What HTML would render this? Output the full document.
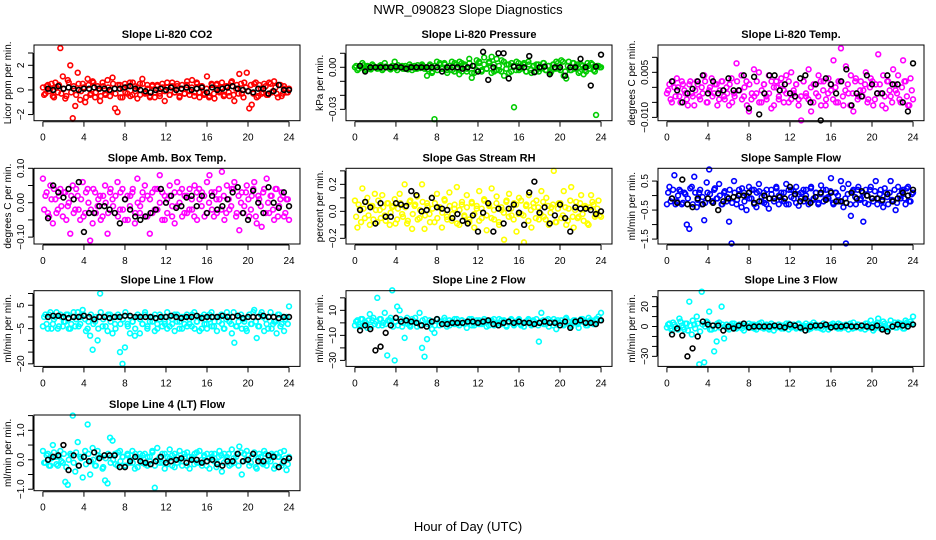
<!DOCTYPE html>
<html><head><meta charset="utf-8"><style>
html,body{margin:0;padding:0;background:#fff;}
svg{display:block;font-family:"Liberation Sans",sans-serif;}
</style></head><body>
<svg id="chart" width="936" height="540" viewBox="0 0 936 540" xmlns="http://www.w3.org/2000/svg">
<rect width="936" height="540" fill="#fff"/>
<text x="468" y="14" text-anchor="middle" font-size="13">NWR_090823  Slope Diagnostics</text>
<text x="468" y="531" text-anchor="middle" font-size="13">Hour of Day (UTC)</text>
</svg>
<script>
const xTicks = [0,4,8,12,16,20,24];
const co2 = [0.2,-0.3,0.4,0.1,-0.5,0.6,-0.2,3.4,1.1,-0.7,0.8,2.0,-2.3,-1.3,1.4,-0.8,0.5,-1.0,0.9,-0.4,0.7,-0.6,0.3,-0.9,0.6,-0.3,0.8,-0.5,1.0,-1.5,-1.8,0.4,-0.6,0.5,-0.3,0.6,-0.4,0.3,-0.7,0.5,0.9,-0.2,0.4,-0.5,0.3,-0.6,0.4,-0.3,0.5,-0.9,0.2,-0.4,0.6,-0.2,0.3,-0.5,0.4,-0.3,0.7,-0.4,0.8,-0.2,0.5,-0.6,0.3,-0.3,1.1,-0.5,0.4,-0.7,0.5,-0.2,0.6,-0.4,0.3,-0.5,0.7,-0.9,0.4,1.3,-0.3,0.6,1.4,-1.5,-1.2,0.5,-0.6,0.4,-0.3,0.5,-0.4,0.6,-0.2,0.7,-0.3,0.4,-0.5,0.3,-0.2,0.1];
const co2B = [-0.4,0.3,-0.1,0.5,-0.6,0.2,0.4,-0.3,0.1,-0.5,0.6,-0.2,0.3,-0.4,0.5,-0.1,0.2,-0.6,0.4,-0.3,0.6,-0.2,0.1,-0.5,0.3,-0.4,0.2,-0.1,0.5,-0.3,0.4,-0.6,0.1,-0.2,0.3,-0.5,0.6,-0.1,0.2,-0.4,0.5,-0.3,0.1,-0.6,0.4,-0.2,0.3,-0.5,0.2,-0.1,0.6,-0.4,0.3,-0.2,0.5,-0.6,0.1,-0.3,0.4,-0.1,0.2,-0.5,0.6,-0.2,0.3,-0.4,0.1,-0.6,0.5,-0.3,0.4,-0.1,0.2,-0.5,0.3,-0.2,0.6,-0.4,0.1,-0.3,0.5,-0.6,0.2,-0.1,0.4,-0.3,0.6,-0.5,0.1,-0.2,0.3,-0.4,0.5,-0.1,0.2,-0.6,0.4,-0.3,0.1,-0.2];
const co2Ref = [0.1,0,0.3,0.1,0.2,0.1,0,0.1,0.1,0.2,0.1,0.1,0,0.1,0.1,0.2,0.3,0.1,0,-0.1,-0.2,0,0.1,0,0.2,0,0.1,0.2,0,0.1,0.2,-0.2,0.2,0,0.1,0.2,0.3,0.1,0,-0.1,-0.2,0.1,0.1,-0.3,-0.1,0.4,0,0];
const press = [0,-.002,.001,.003,-.002,.001,-.001,.002,0,-.001,.001,-.002,.003,0,-.001,.001,.004,-.002,0,.001,-.001,0,.002,-.002,.001,-.001,0,.002,-.001,-.006,.001,-.004,-.037,.004,.002,-.001,.003,-.002,.001,.004,-.003,.002,-.005,.003,.001,-.003,.006,-.0075,-.004,.005,.003,-.002,.007,-.001,.004,.0075,-.003,.006,-.002,.005,-.006,.002,-.004,.003,-.0285,.004,-.002,.001,.003,-.003,.002,-.004,.001,.002,-.003,0,.003,-.002,.001,-.003,.002,.004,-.001,.005,-.006,-.008,.004,-.002,.003,.001,-.004,.002,-.005,-.003,.001,.003,-.002,-.034,.001,0];
const pressB = [.001,-.001,0,.0015,-.001,.0005,-.0015,.001,0,-.0005,.0015,-.001,.0005,0,-.0015,.001,-.0005,.0015,0,-.001,.001,-.0015,.0005,0,-.001,.0015,-.0005,.001,0,-.0015,.002,-.003,.001,-.002,.003,-.001,.002,-.004,.001,-.002,.003,-.001,.004,-.003,.002,-.001,.003,-.004,.001,-.002,.004,-.003,.002,-.001,.003,-.004,.002,-.002,.001,-.003,.004,-.001,.002,-.003,.001,-.002,.003,-.001,.002,-.003,.004,-.002,.001,-.003,.002,-.001,.003,-.002,.001,-.004,.002,-.001,.003,-.002,.004,-.003,.001,-.002,.003,-.001,.002,-.003,.001,-.002,.003,-.001,.002,-.003,.001,0];
const pressRef = [.001,-.003,0,0,0,0,0,.0005,0,-.001,0,0,0,0,0,0,-.003,0,0,0,-.001,0,.001,-.003,.011,-.009,0,.01,.01,-.008,.0005,0,0,.008,-.0035,0,.0005,-.005,0,0,-.006,0,0,.006,0,-.013,.0005,.009];
const temp = [-.002,.001,-.005,0,.003,-.003,.002,-.001,-.004,.001,-.002,-.006,.002,-.003,0,.004,-.005,-.001,.003,-.002,.001,-.004,.002,-.003,0,-.006,.003,-.002,.008,-.001,.004,-.003,.002,-.008,-.004,.006,-.002,.005,-.005,.001,-.003,.004,-.007,0,.002,-.004,.003,-.001,.004,-.005,.005,-.002,.001,-.004,-.011,.002,-.003,.006,-.008,.001,-.002,.004,-.006,.002,-.004,.003,-.001,.009,-.005,.002,.013,-.006,.007,-.002,.004,-.008,.003,-.003,.002,-.001,.005,-.004,.003,-.006,.001,.011,-.002,.004,-.007,.002,-.003,.006,-.001,.004,-.005,.009,.002,-.006,.003,-.004];
const tempB = [-.001,-.004,.002,-.003,0,-.005,.001,-.002,-.006,.002,-.003,-.001,.001,-.004,-.002,.002,-.005,0,-.003,.001,-.006,-.001,.002,-.004,-.002,.001,-.005,-.003,.002,-.001,-.004,0,-.006,.001,-.002,-.003,.002,-.005,-.001,.001,-.004,-.002,.002,-.006,0,-.003,.001,-.005,-.002,.002,-.004,-.001,.001,-.006,-.003,.002,-.002,-.004,0,-.005,.001,-.003,.002,-.001,-.006,-.002,.001,-.004,0,-.005,.002,-.003,-.001,.001,-.006,-.002,.002,-.004,-.001,-.003,.001,-.005,0,.002,-.004,-.002,.001,-.006,-.003,.002,-.001,-.005,.001,-.002,-.004,0,.002,-.003,-.006,-.001];
const tempRef = [.002,-.001,-.005,-.002,-.0005,.002,.004,-.002,.002,-.002,-.001,.003,-.001,-.001,.004,-.007,.0035,-.009,-.002,.004,.004,-.001,.001,-.002,-.003,.003,.004,-.005,.001,-.011,.003,.001,-.002,.002,.006,-.006,-.002,-.003,.004,.001,-.002,-.002,.004,.001,.001,-.005,-.008,.008];
const amb = [.07,.02,-.03,.05,-.06,.01,-.02,.04,-.04,.03,-.01,-.09,.05,-.02,.02,-.05,.06,-.03,.04,-.11,-.06,.03,-.01,.02,-.04,.05,-.09,.03,.01,-.03,.06,-.02,.04,-.05,.02,-.01,.03,-.06,.07,-.03,.01,.05,-.04,-.09,.03,-.02,.04,.08,-.05,.02,-.03,.05,-.01,-.06,.06,.03,-.04,.02,-.03,.04,-.02,.05,-.05,.01,.03,-.04,.06,.08,-.02,.03,-.03,.01,.09,-.05,.05,-.02,.04,.06,-.03,-.08,.03,-.01,.05,-.04,.02,.06,-.06,.01,-.07,.04,.07,-.03,.02,-.05,.04,-.01,.03,-.04,.01,-.05];
const ambB = [-.02,.03,-.04,.01,.04,-.03,.02,-.01,.03,-.05,0,.02,-.03,.04,-.02,.01,-.04,.03,0,-.02,.04,-.03,.01,-.05,.02,0,-.03,.04,-.01,.02,-.04,.03,-.02,.01,-.05,.02,.04,-.03,0,-.01,.03,-.04,.02,.01,-.03,.04,-.02,0,.03,-.05,.01,.02,-.04,.03,-.01,0,.04,-.03,.02,-.02,.01,-.04,.03,.04,-.01,.02,-.03,0,.03,-.04,.01,.04,-.02,.02,-.03,.01,-.01,.04,-.04,.02,0,-.03,.03,.01,-.02,.04,-.04,.02,-.01,.03,-.03,0,.02,-.02,.04,-.04,.01,.02,-.03,.01];
const ambRef = [-.045,.05,.03,.015,.04,.01,.06,-.085,-.03,-.03,-.01,-.01,-.02,-.03,-.06,.01,-.02,-.04,-.05,-.04,-.03,-.02,.04,0,.02,-.015,-.01,.015,.02,-.01,.02,-.03,.02,-.02,-.01,.01,.03,.045,-.03,-.05,.035,0,-.03,.045,0,-.015,.03,-.01];
const rh = [.08,-.12,.02,.17,-.05,.1,-.1,.04,.13,-.08,.01,.12,-.03,.06,-.1,.03,.09,-.06,.13,-.02,.2,-.09,.07,-.13,.04,.11,-.05,.2,-.13,.06,-.02,.1,-.08,.13,.03,-.12,.09,-.04,.14,-.07,.02,.18,-.1,.05,-.03,.12,-.08,.07,-.12,.02,.15,-.05,.09,-.14,.04,.17,-.06,.11,-.1,.01,-.21,.08,.13,-.03,.06,-.15,.1,-.02,-.23,.05,.12,-.12,.03,.08,-.06,.15,-.04,.1,-.1,.03,.3,-.08,.06,-.05,.15,-.1,.02,.18,-.12,.07,-.04,.12,-.07,.03,-.1,.12,.05,-.03,.08,-.04];
const rhB = [-.04,.05,-.08,.02,.07,-.03,.04,-.06,.01,.08,-.05,.03,-.07,.06,-.01,.04,-.09,.02,.06,-.04,.03,-.07,.08,-.02,.05,-.06,.01,.07,-.03,.04,-.08,.02,.06,-.05,.03,-.01,.08,-.06,.04,-.02,.05,-.09,.01,.07,-.04,.03,-.06,.06,-.02,.04,-.07,.02,.08,-.03,.05,-.05,.01,.06,-.08,.03,-.01,.07,-.04,.02,-.06,.05,-.02,.08,-.03,.04,-.07,.01,.06,-.05,.03,-.02,.07,-.06,.04,-.01,.05,-.08,.02,.06,-.03,.03,-.07,.08,-.04,.01,-.05,.06,-.02,.04,-.09,.03,.07,-.04,.02,-.03];
const rhRef = [.01,.07,.03,-.09,.06,-.04,-.04,.06,.05,.04,.15,.12,0,.01,.1,.03,.02,.01,-.05,-.02,-.07,-.09,-.03,-.15,-.01,.06,-.15,.02,-.09,.02,.05,-.01,-.1,.14,.22,-.01,.03,-.09,-.03,.05,-.05,-.15,.03,.02,.02,.01,-.02,0];
const sflow = [-.3,.3,-.1,.7,-.2,.2,-.3,.1,-1.0,-1.15,.3,.65,-.4,.1,-.3,-.85,.45,.9,-.2,.2,-.1,.4,-.3,.1,-.2,-.9,-1.65,.5,-.3,.2,-.4,.1,-.5,.3,-.1,.2,-.4,.4,-.2,.1,-.3,-.45,.2,-.1,.3,-.3,.1,-.2,.4,-.3,.2,-.1,.3,-.35,.1,-.2,.2,-.3,.3,-.1,.1,-.25,.35,-.2,.2,-.1,.6,-.3,.1,-.2,.5,-.4,-1.65,.4,-.7,.2,-.3,.3,-.1,-.9,.2,-.3,.3,-.2,.5,-.1,.2,-.4,.1,-.3,.5,-.2,-.5,.3,-.1,.2,-.3,.3,-.2,.1];
const sflowB = [.1,-.2,.2,-.3,0,.15,-.25,.05,-.1,.25,-.3,.1,-.15,.2,-.05,-.25,.1,.05,-.2,.25,-.1,0,-.3,.15,-.05,.2,-.25,.1,-.15,.05,.25,-.2,0,-.1,.2,-.3,.1,.15,-.05,-.25,.2,-.1,.05,-.2,.25,0,-.15,.1,-.3,.2,-.05,.15,-.25,.05,-.1,.2,0,-.2,.25,-.15,.1,-.3,.05,.2,-.1,-.05,.15,-.25,.1,0,-.2,.25,-.1,.05,-.3,.15,-.05,.2,-.15,.1,-.25,0,.2,-.1,.15,-.3,.05,-.2,.25,-.05,.1,-.15,.2,-.25,0,.15,-.1,.25,-.2,.05];
const sflowRef = [-.1,-.25,.55,-.3,-.4,-.1,-.3,-.1,-.25,-.5,-.2,-.1,-.05,0,0,.1,-.25,-.2,0,-.1,-.1,-.05,-.1,.3,.05,-.2,-.1,-.25,-.05,.1,-.15,.1,-.2,-.2,-.25,.1,-.1,.15,0,-.1,-.1,-.15,.05,-.2,-.1,.1,0,.2];
const line1 = [-4,1,-5,2,-3,0,-5,1,-4,-2,1,-5,0,-4,2,-3,3,-1,-5,-8,-14,-2,-10,10,-4,0,-6,1,-7,-3,0,-15,-20,-13,-3,-7,-2,-8,0,-7,-3,1,-5,-2,0,-6,-3,1,-4,-2,-5,0,-3,-6,1,-2,-5,0,-4,-3,1,-5,-2,-6,0,-3,-5,1,-4,-2,-6,0,-3,-5,2,-2,-7,-11,-4,0,-5,-2,-6,1,-3,3,-9,-4,2,-6,-3,0,-5,-2,-7,1,-3,-6,0,4.5];
const line1B = [0,-3,1,-5,-1,2,-4,0,-2,1,-5,-3,2,-1,-4,0,1,-6,-2,1,-3,0,-5,2,-1,-4,1,-2,0,-5,1,-3,-1,2,-4,0,-2,-5,1,-1,-3,2,-4,0,-2,1,-5,-1,0,-3,2,-4,-1,1,-2,-5,0,-3,1,-1,-4,2,-2,0,-5,1,-3,-1,2,-4,0,-2,1,-5,-1,0,-3,2,-4,-2,1,-1,-5,0,-3,2,-2,-4,1,0,-1,-5,2,-3,-2,1,-4,0,-1,-3];
const line1Ref = [0,0.5,0.5,0,-0.5,0,0,0.5,0,-1,0,0,-0.5,0,0,0.5,0.5,0,0,0,0,-0.5,0,0,0.5,0,-0.5,0,0,0.5,-0.5,0,0,0,0.5,0,0,0.5,-0.5,0,0,0,0.5,0,0,-0.5,0,0];
const line2 = [-2,2,-3,3,1,-4,7,2,-1,20,3,-2,8,-26,2,26,-30,13,10,-3,-12,4,-2,3,1,-3,8,-20,-27,-13,2,-5,-8,3,-2,1,4,-3,2,0,-1,3,-2,2,0,-4,1,3,-2,0,2,-1,3,-3,1,2,-2,0,3,-1,2,-3,1,2,-2,0,3,-1,-3,1,2,-2,1,3,-15,8,-1,2,-3,1,3,-5,0,2,-2,4,1,-3,2,0,-4,3,1,-2,4,2,-1,3,5,8];
const line2B = [1,-1,3,-2,0,2,-3,4,1,-2,3,0,-1,2,4,-3,1,-2,3,0,2,-1,-3,1,4,0,-2,2,3,-1,0,1,-2,3,1,-1,2,0,-2,1,3,-1,0,2,-1,1,3,-2,0,2,-1,1,0,2,-2,1,3,-1,0,2,1,-2,0,3,-1,1,2,-2,0,1,3,-1,2,0,-2,1,2,-1,3,0,-2,1,2,0,-1,3,1,-2,0,2,-1,1,3,0,-2,2,1,-1,3,2];
const line2Ref = [-6,-2,-5,-22,-19,-8,-2,4,1,2,1,0,-2,-3,1,3,-1,-1,0,0,0,1,1,0,1,2,-1,-2,0,1,0,1,0,0,-1,0,1,0,0,-2,1,-4,1,2,0,0,-1,2];
const line3 = [-1,3,-4,2,-2,8,1,-3,3,25,-8,2,10,-38,35,-36,5,15,-3,-25,-15,4,20,-12,2,-3,1,3,-2,0,2,-4,1,3,-1,2,-3,0,4,-2,1,-1,3,-4,0,2,-2,1,3,-3,0,2,-1,3,-2,1,0,-3,2,4,-1,1,-2,3,0,-3,2,1,-1,3,-2,0,2,-3,1,4,-1,2,-2,0,3,-1,6,-4,2,8,-2,5,0,-3,6,2,-1,4,3,-2,6,3,5,10];
const line3B = [2,-2,4,0,-3,5,-1,3,-4,1,6,-2,3,-5,2,0,4,-3,1,-2,3,-1,2,0,-2,1,3,-1,0,2,-2,1,0,-1,2,-2,1,3,-1,0,2,-3,1,0,-1,2,1,-2,0,3,-1,1,-2,2,0,-1,3,1,-2,0,2,-1,1,-3,2,0,-1,3,1,-2,2,0,-1,1,3,-2,0,2,-1,1,-3,3,0,2,-2,4,1,-1,3,-2,2,0,4,-1,3,1,-2,4,2,3];
const line3Ref = [-8,-2,-9,-30,-22,-10,5,2,1,1,-4,0,-2,1,3,-1,0,0,0,0,1,0,-1,2,1,-1,-4,0,1,1,2,-1,0,0,1,0,0,1,0,-1,1,-3,-5,0,2,1,0,2];
const line4 = [0.3,-0.1,0.2,-0.2,0.5,0.1,-0.2,0.3,-0.1,-0.75,-0.85,0.2,1.5,-0.4,0.6,0.1,-0.6,0.3,1.2,-0.5,0.4,-0.2,0.3,0.1,-0.3,-0.7,-0.8,0.75,0.65,0.2,-0.2,0.3,0.1,-0.2,0.2,-0.1,0.3,-0.3,0.1,0.2,-0.1,0.2,-0.2,0.1,0.3,-0.95,0.4,-0.1,0.2,-0.3,0.1,0.35,-0.2,0.2,-0.1,0.3,-0.2,0.1,0.25,-0.3,0.1,0.2,-0.1,0.3,-0.2,0.1,0.2,-0.3,0.1,0.2,-0.1,0.3,-0.4,0.2,0.1,-0.2,0.35,-0.1,0.2,0.45,-0.5,0.2,0.3,-0.2,0.1,0.25,-0.3,0.2,-0.1,0.3,-0.2,0.1,0.2,-0.3,0.2,0.1,-0.2,0.3,-0.35,0.1];
const line4B = [-0.1,0.15,-0.2,0.05,0.25,-0.15,0.1,-0.05,0.2,-0.25,0,0.15,-0.1,0.25,-0.2,0.05,0.1,-0.15,0.2,-0.05,0,-0.2,0.15,0.1,-0.25,0.05,0.2,-0.1,0,-0.15,0.25,-0.05,0.1,-0.2,0.15,0,-0.1,0.2,-0.25,0.05,0.15,-0.15,0.1,-0.05,0.25,-0.2,0,0.1,-0.1,0.2,-0.15,0.05,0.15,-0.25,0.1,0,-0.05,0.2,-0.2,0.1,0.05,-0.15,0.25,-0.1,0,0.15,-0.2,0.05,0.2,-0.05,-0.25,0.1,0.15,-0.1,0,0.2,-0.15,0.05,0.1,-0.2,0.25,-0.05,0,0.15,-0.1,0.2,-0.25,0.05,0.1,-0.15,0.2,0,-0.05,0.15,-0.2,0.1,0.25,-0.1,0.05,-0.15];
const line4Ref = [0,0.1,0.15,0.5,-0.35,0.15,-0.2,0.1,-0.05,0.25,0.05,0.15,0.15,0.15,-0.25,-0.25,-0.05,0.1,-0.05,-0.1,-0.15,-0.05,0.1,-0.1,-0.05,0,0.05,-0.1,0,0,-0.1,-0.05,0,-0.15,-0.2,-0.05,-0.05,0.2,-0.05,0,0.2,-0.05,-0.05,0.15,0.1,-0.25,-0.05,0.05];

const panels = [
 {name:'co2',title:'Slope Li-820 CO2',ylab:'Licor ppm per min.',col:'#ff0000',c:co2,b:co2B,k:co2Ref,dom:[-2.5,3.65],ticks:[-2,-1,0,1,2,3],labs:{'-2':'-2','0':'0','2':'2'}},
 {name:'pressure',title:'Slope Li-820 Pressure',ylab:'kPa per min.',col:'#00cc00',c:press,b:pressB,k:pressRef,dom:[-0.0381,0.0159],ticks:[-0.03,-0.02,-0.01,0,0.01],labs:{'-0.03':'-0.03','0':'0.00'}},
 {name:'li820-temp',title:'Slope Li-820 Temp.',ylab:'degrees C per min.',col:'#ff00ff',c:temp,b:tempB,k:tempRef,dom:[-0.0111,0.0141],ticks:[-0.01,-0.005,0,0.005,0.01],labs:{'-0.01':'-0.010','0.005':'0.005'}},
 {name:'amb-box-temp',title:'Slope Amb. Box Temp.',ylab:'degrees C per min.',col:'#ff00ff',c:amb,b:ambB,k:ambRef,dom:[-0.12,0.1],ticks:[-0.1,-0.05,0,0.05,0.1],labs:{'-0.1':'-0.10','0':'0.00','0.1':'0.10'}},
 {name:'gas-stream-rh',title:'Slope Gas Stream RH',ylab:'percent per min.',col:'#ffff00',c:rh,b:rhB,k:rhRef,dom:[-0.242,0.319],ticks:[-0.2,-0.1,0,0.1,0.2,0.3],labs:{'-0.2':'-0.2','0':'0.0','0.2':'0.2'}},
 {name:'sample-flow',title:'Slope Sample Flow',ylab:'ml/min per min.',col:'#0000ff',c:sflow,b:sflowB,k:sflowRef,dom:[-1.67,0.94],ticks:[-1.5,-1,-0.5,0,0.5],labs:{'-1.5':'-1.5','-0.5':'-0.5','0.5':'0.5'}},
 {name:'line1-flow',title:'Slope Line 1 Flow',ylab:'ml/min per min.',col:'#00ffff',c:line1,b:line1B,k:line1Ref,dom:[-21.1,11.2],ticks:[-20,-15,-10,-5,0,5,10],labs:{'-20':'-20','-5':'-5','5':'5'}},
 {name:'line2-flow',title:'Slope Line 2 Flow',ylab:'ml/min per min.',col:'#00ffff',c:line2,b:line2B,k:line2Ref,dom:[-34.8,25.7],ticks:[-30,-20,-10,0,10,20],labs:{'-30':'-30','-10':'-10','10':'10'}},
 {name:'line3-flow',title:'Slope Line 3 Flow',ylab:'ml/min per min.',col:'#00ffff',c:line3,b:line3B,k:line3Ref,dom:[-40.1,36],ticks:[-30,-20,-10,0,10,20,30],labs:{'-30':'-30','0':'0','20':'20'}},
 {name:'line4-flow',title:'Slope Line 4 (LT) Flow',ylab:'ml/min per min.',col:'#00ffff',c:line4,b:line4B,k:line4Ref,dom:[-1.05,1.52],ticks:[-1,-0.5,0,0.5,1,1.5],labs:{'-1':'-1.0','0':'0.0','1':'1.0'}}
];
const lefts=[34,346,658], tops=[45,168.3,290.7,415], W=266, H=75.7;
const NS='http://www.w3.org/2000/svg';
const svg=document.getElementById('chart');
function mk(tag,attrs,parent){const e=document.createElementNS(NS,tag);for(const a in attrs)e.setAttribute(a,attrs[a]);parent.appendChild(e);return e;}
panels.forEach((p,pi)=>{
  const L=lefts[pi%3], T=tops[Math.floor(pi/3)], B=T+H;
  const g=mk('g',{},svg);
  
  
  const xs=h=>L+(h+0.87)/25.94*W;
  const ys=v=>B-(v-p.dom[0])/(p.dom[1]-p.dom[0])*H;
  const t=mk('text',{x:L+W/2,y:T-7,'text-anchor':'middle','font-size':'11','font-weight':'bold'},g);
  t.textContent=p.title;
  
  
  const pts=mk('g',{fill:'none','stroke-width':'1.6'},g);
  
  
  const n=p.c.length;
  p.c.forEach((v,i)=>{
    const c=mk('circle',{cx:xs(24*i/(n-1)),cy:ys(v),r:2.4,stroke:p.col},pts);
    
    
  });
  const m=p.b.length;
  p.b.forEach((v,i)=>{
    const c=mk('circle',{cx:xs(24*(i+0.5)/m),cy:ys(v),r:2.4,stroke:p.col},pts);
    
    
  });
  p.k.forEach((v,i)=>{
    const c=mk('circle',{cx:xs(0.5+i*0.5),cy:ys(v),r:2.4,stroke:'#000'},pts);
    
    
  });
  const box=mk('rect',{x:L,y:T,width:W,height:H,fill:'none',stroke:'#000','stroke-width':'1'},g);
  
  
  const ax=mk('g',{stroke:'#000','stroke-width':'1',fill:'#000','font-size':'10'},g);
  
  
  mk('line',{x1:xs(xTicks[0]),x2:xs(xTicks[xTicks.length-1]),y1:B+1,y2:B+1},ax);
  xTicks.forEach(h=>{
    mk('line',{x1:xs(h),x2:xs(h),y1:B+1,y2:B+6},ax);
    const tl=mk('text',{x:xs(h),y:B+20,'text-anchor':'middle',stroke:'none'},ax);
    tl.textContent=String(h);
    
    
  });
  const ay=mk('g',{stroke:'#000','stroke-width':'1',fill:'#000','font-size':'10'},g);
  
  
  mk('line',{x1:L-1,x2:L-1,y1:ys(p.ticks[0]),y2:ys(p.ticks[p.ticks.length-1])},ay);
  p.ticks.forEach(v=>{
    mk('line',{x1:L-1,x2:L-6,y1:ys(v),y2:ys(v)},ay);
    const lab=p.labs[String(v)];
    if(lab!==undefined){
      const tl=mk('text',{x:0,y:0,'text-anchor':'middle',stroke:'none',transform:`translate(${L-10},${ys(v)}) rotate(-90)`},ay);
      tl.textContent=lab.replace(/^-/,'\u2212');
      
      
    }
  });
  const yl=mk('text',{x:0,y:0,'text-anchor':'middle','font-size':'10',transform:`translate(${L-23},${T+H/2}) rotate(-90)`},g);
  yl.textContent=p.ylab;
  
  
});
</script>
</body></html>
